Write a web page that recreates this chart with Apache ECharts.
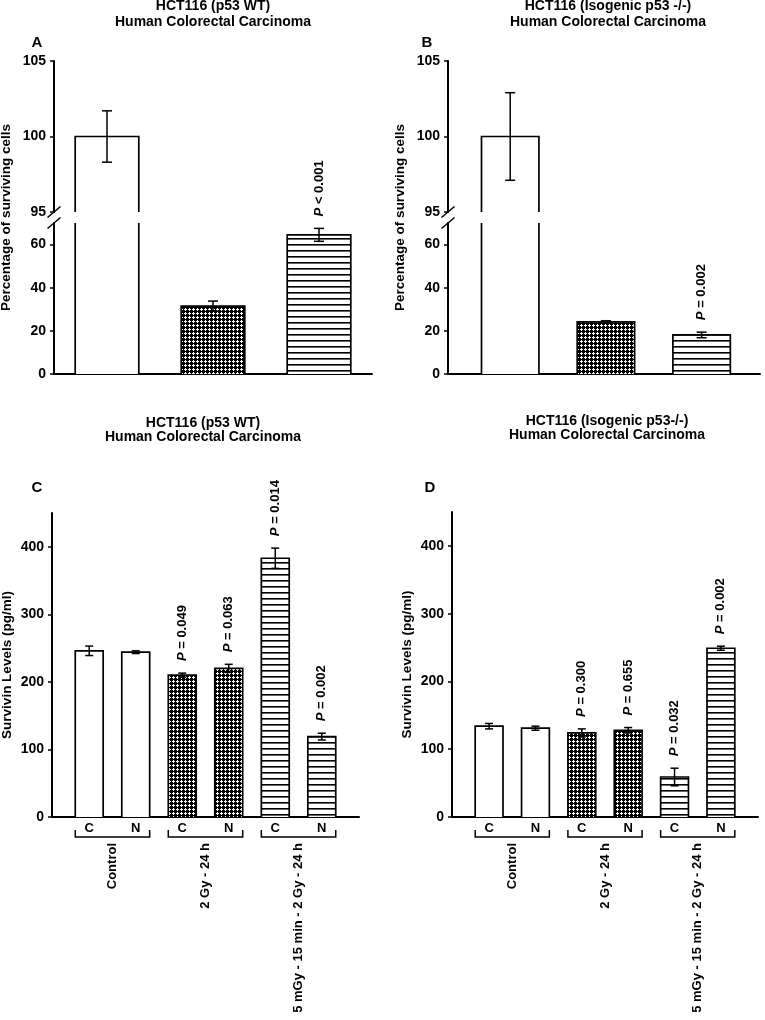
<!DOCTYPE html>
<html><head><meta charset="utf-8">
<script src="https://cdn.jsdelivr.net/npm/echarts@6/dist/echarts.min.js"></script>
<style>html,body{margin:0;padding:0;background:#fff}#c{width:765px;height:1020px}</style>
</head><body><div id="c"></div>
<script>
// ================= DATA =================
const titleWT = ['HCT116 (p53 WT)', 'Human Colorectal Carcinoma'];
const titleKOtop = ['HCT116 (Isogenic p53 -/-)', 'Human Colorectal Carcinoma'];
const titleKObottom = ['HCT116 (Isogenic p53-/-)', 'Human Colorectal Carcinoma'];
const panelLetters = ['A', 'B', 'C', 'D'];
const survivalYName = 'Percentage of surviving cells';
const survivinYName = 'Survivin Levels (pg/ml)';

// Panels A & B: surviving cells (%), one bar per treatment group
const survivalGroup = [0, 1, 2];
const survivalA = [100, 31.5, 64.5];
const survivalAErr = [1.7, 2.3, 3.0];
const survivalAP = ['', '', 'P < 0.001'];
const survivalB = [100, 24.2, 18.1];
const survivalBErr = [2.9, 0.5, 1.3];
const survivalBP = ['', '', 'P = 0.002'];
const survivalUpperTicks = [95, 100, 105];
const survivalLowerTicks = [0, 20, 40, 60];

// Panels C & D: survivin levels (pg/ml)
const fractionLabels = ['C', 'N', 'C', 'N', 'C', 'N'];
const survivinGroup = [0, 0, 1, 1, 2, 2];
const groupNames = ['Control', '2 Gy - 24 h', '5 mGy - 15 min - 2 Gy - 24 h'];
const groupMembers = [[0, 1], [2, 3], [4, 5]];
const survivinC = [246, 244, 210, 220, 383, 119];
const survivinCErr = [7, 2, 3, 6, 15, 5];
const survivinCP = ['', '', 'P = 0.049', 'P = 0.063', 'P = 0.014', 'P = 0.002'];
const survivinD = [134, 131, 124, 128, 59, 249];
const survivinDErr = [4, 3, 6, 4, 13, 3];
const survivinDP = ['', '', 'P = 0.300', 'P = 0.655', 'P = 0.032', 'P = 0.002'];
const survivinTicks = [0, 100, 200, 300, 400];

// ================= STYLE / LAYOUT =================
const FONT = '"Liberation Sans", Arial, Helvetica, sans-serif';
const BARW = 0.6;

function makePattern(kind) {
  const cv = document.createElement('canvas');
  const g = cv.getContext('2d');
  if (kind === 'cross') {
    cv.width = 4; cv.height = 4;
    g.fillStyle = '#000'; g.fillRect(0, 0, 4, 4);
    g.fillStyle = '#fff';
    [[1, 0], [0, 1], [1, 1], [2, 1], [1, 2]].forEach(function (p) { g.fillRect(p[0], p[1], 1, 1); });
  } else {
    cv.width = 4; cv.height = 6;
    g.fillStyle = '#fff'; g.fillRect(0, 0, 4, 6);
    g.fillStyle = '#000'; g.fillRect(0, 4, 4, 1.6);
  }
  return { image: cv, repeat: 'repeat' };
}
const groupFills = ['#fff', makePattern('cross'), makePattern('stripe')];

function barRenderer(groups) {
  return function (params, api) {
    const cs = params.coordSys;
    const i = params.dataIndex;
    const p = api.coord([api.value(0), api.value(1)]);
    const w = api.size([BARW, 0])[0];
    const bottom = cs.y + cs.height;
    if (p[1] >= bottom - 0.5) return null;
    const clipped = p[1] < cs.y;
    const top = clipped ? cs.y : p[1];
    const l = p[0] - w / 2, r = p[0] + w / 2;
    const ls = { stroke: '#000', lineWidth: 1.7, fill: 'none' };
    const children = [{ type: 'rect', shape: { x: l, y: top, width: w, height: bottom - top }, style: { fill: groupFills[groups[i]] } }];
    if (clipped) {
      children.push({ type: 'line', shape: { x1: l, y1: top, x2: l, y2: bottom }, style: ls });
      children.push({ type: 'line', shape: { x1: r, y1: top, x2: r, y2: bottom }, style: ls });
    } else {
      children.push({ type: 'polyline', shape: { points: [[l, bottom], [l, top], [r, top], [r, bottom]] }, style: ls });
    }
    return { type: 'group', children: children };
  };
}

function errRenderer(errs, pLabels, capHalf) {
  return function (params, api) {
    const cs = params.coordSys;
    const i = params.dataIndex;
    const xv = api.value(0), v = api.value(1), e = errs[i];
    const pc = api.coord([xv, v]);
    if (pc[1] < cs.y - 0.5 || pc[1] > cs.y + cs.height + 0.5) return null;
    const hi = api.coord([xv, v + e])[1], lo = api.coord([xv, v - e])[1];
    const x = pc[0];
    const ls = { stroke: '#000', lineWidth: 1.5 };
    const children = [
      { type: 'line', shape: { x1: x, y1: hi, x2: x, y2: lo }, style: ls },
      { type: 'line', shape: { x1: x - capHalf, y1: hi, x2: x + capHalf, y2: hi }, style: ls },
      { type: 'line', shape: { x1: x - capHalf, y1: lo, x2: x + capHalf, y2: lo }, style: ls }
    ];
    if (pLabels[i]) {
      children.push({
        type: 'text', x: x, y: hi - 12, rotation: Math.PI / 2,
        style: {
          text: '{i|P}' + pLabels[i].slice(1),
          rich: { i: { fontStyle: 'italic', fontWeight: 'bold', fontSize: 13, fontFamily: FONT, fill: '#000' } },
          fontSize: 13, fontWeight: 'bold', fontFamily: FONT, fill: '#000',
          align: 'left', verticalAlign: 'middle'
        }
      });
    }
    return { type: 'group', children: children };
  };
}

function bracketRenderer(params, api) {
  const cs = params.coordSys;
  const i = params.dataIndex;
  const w = api.size([BARW, 0])[0];
  const base = cs.y + cs.height;
  const l = api.coord([api.value(0), 0])[0] - w / 2;
  const r = api.coord([api.value(1), 0])[0] + w / 2;
  const yb = base + 20, yt = base + 13;
  return {
    type: 'group', children: [
      { type: 'polyline', shape: { points: [[l, yt], [l, yb], [r, yb], [r, yt]] }, style: { stroke: '#000', lineWidth: 1.5, fill: 'none' } },
      {
        type: 'text', x: (l + r) / 2, y: base + 26, rotation: Math.PI / 2,
        style: { text: groupNames[i], fontSize: 13, fontWeight: 'bold', fontFamily: FONT, fill: '#000', align: 'right', verticalAlign: 'middle' }
      }
    ]
  };
}

const LA = { left: 54, right: 372, uTop: 61, uBot: 212, lTop: 223, lBot: 374, xmin: -0.5, xmax: 2.5 };
const LB = { left: 448, right: 760, uTop: 61, uBot: 212, lTop: 223, lBot: 374, xmin: -0.65, xmax: 2.61 };
const LC = { left: 52, right: 359, top: 513, bot: 817 };
const LD = { left: 452, right: 758, top: 512, bot: 817 };

const grids = [
  { left: LA.left, top: LA.uTop, width: LA.right - LA.left, height: LA.uBot - LA.uTop },
  { left: LA.left, top: LA.lTop, width: LA.right - LA.left, height: LA.lBot - LA.lTop },
  { left: LB.left, top: LB.uTop, width: LB.right - LB.left, height: LB.uBot - LB.uTop },
  { left: LB.left, top: LB.lTop, width: LB.right - LB.left, height: LB.lBot - LB.lTop },
  { left: LC.left, top: LC.top, width: LC.right - LC.left, height: LC.bot - LC.top },
  { left: LD.left, top: LD.top, width: LD.right - LD.left, height: LD.bot - LD.top }
].map(function (g) { return Object.assign({ containLabel: false, outerBoundsMode: 'none' }, g); });

const axisLine = { show: true, onZero: false, lineStyle: { color: '#000', width: 2 } };
const tickStyle = { show: true, inside: false, length: 4, lineStyle: { color: '#000', width: 1.5 } };
const labelStyle = { color: '#000', fontSize: 14, fontWeight: 'bold', fontFamily: FONT, margin: 8 };

function xHidden(gi, L) { return { type: 'value', gridIndex: gi, min: L.xmin, max: L.xmax, show: false }; }
function xLine(gi, L) {
  return { type: 'value', gridIndex: gi, min: L.xmin, max: L.xmax, axisLine: axisLine, axisTick: { show: false }, axisLabel: { show: false }, splitLine: { show: false } };
}
function xGroups(gi) {
  return {
    type: 'value', gridIndex: gi, min: -0.8, max: 5.8, axisLine: axisLine, axisTick: { show: false }, splitLine: { show: false },
    axisLabel: {
      show: true, customValues: [0, 1, 2, 3, 4, 5], color: '#000', fontSize: 13, fontWeight: 'bold', fontFamily: FONT, margin: 5,
      formatter: function (v) { return fractionLabels[Math.round(v)] || ''; }
    }
  };
}
function yUpper(gi) {
  return {
    type: 'value', gridIndex: gi, min: 95, max: 105, interval: 5, axisLine: axisLine,
    axisTick: Object.assign({ customValues: survivalUpperTicks }, tickStyle),
    axisLabel: Object.assign({ customValues: survivalUpperTicks }, labelStyle), splitLine: { show: false }
  };
}
function yLower(gi) {
  return {
    type: 'value', gridIndex: gi, min: 0, max: 70, axisLine: axisLine,
    axisTick: Object.assign({ customValues: survivalLowerTicks }, tickStyle),
    axisLabel: Object.assign({ customValues: survivalLowerTicks }, labelStyle), splitLine: { show: false }
  };
}
function ySurvivin(gi) {
  return {
    type: 'value', gridIndex: gi, min: 0, max: 450, axisLine: axisLine,
    axisTick: Object.assign({ customValues: survivinTicks }, tickStyle),
    axisLabel: Object.assign({ customValues: survivinTicks }, labelStyle), splitLine: { show: false },
    name: survivinYName, nameLocation: 'middle', nameGap: 38,
    nameTextStyle: { color: '#000', fontSize: 13.5, fontWeight: 'bold', fontFamily: FONT }
  };
}

function toData(vals, errs) { return vals.map(function (v, i) { return [i, v, errs[i]]; }); }

function panelSeries(gi, vals, errs, groups, pLabels, cap) {
  return [
    { type: 'custom', xAxisIndex: gi, yAxisIndex: gi, renderItem: barRenderer(groups), data: toData(vals, errs), encode: { x: 0, y: 1 }, z: 2 },
    { type: 'custom', xAxisIndex: gi, yAxisIndex: gi, renderItem: errRenderer(errs, pLabels, cap), data: toData(vals, errs), encode: { x: 0, y: 1 }, z: 3 }
  ];
}

const series = [].concat(
  panelSeries(0, survivalA, survivalAErr, survivalGroup, survivalAP, 5),
  panelSeries(1, survivalA, survivalAErr, survivalGroup, survivalAP, 5),
  panelSeries(2, survivalB, survivalBErr, survivalGroup, survivalBP, 5),
  panelSeries(3, survivalB, survivalBErr, survivalGroup, survivalBP, 5),
  panelSeries(4, survivinC, survivinCErr, survivinGroup, survivinCP, 4),
  panelSeries(5, survivinD, survivinDErr, survivinGroup, survivinDP, 4),
  [
    { type: 'custom', xAxisIndex: 4, yAxisIndex: 4, renderItem: bracketRenderer, data: groupMembers, encode: { x: [0, 1] }, clip: false },
    { type: 'custom', xAxisIndex: 5, yAxisIndex: 5, renderItem: bracketRenderer, data: groupMembers, encode: { x: [0, 1] }, clip: false }
  ]
);

function txt(x, y, text, size, rot) {
  return {
    type: 'text', x: x, y: y, rotation: rot || 0, silent: true,
    style: { text: text, fontSize: size, fontWeight: 'bold', fontFamily: FONT, fill: '#000', align: 'center', verticalAlign: 'middle' }
  };
}
function breakMarks(L) {
  const ls = { stroke: '#000', lineWidth: 1.5 };
  return [L.uBot, L.lTop].map(function (y) {
    return { type: 'line', silent: true, shape: { x1: L.left - 6.5, y1: y + 5.5, x2: L.left + 6.5, y2: y - 5.5 }, style: ls };
  });
}

const graphics = [
  txt(213, 6, titleWT[0], 14), txt(213, 22, titleWT[1], 14),
  txt(608, 6, titleKOtop[0], 14), txt(608, 22, titleKOtop[1], 14),
  txt(203, 423, titleWT[0], 14), txt(203, 437.5, titleWT[1], 14),
  txt(607, 421, titleKObottom[0], 14), txt(607, 435.5, titleKObottom[1], 14),
  txt(37, 43, panelLetters[0], 15), txt(427, 43, panelLetters[1], 15),
  txt(37, 488, panelLetters[2], 15), txt(430, 488, panelLetters[3], 15),
  txt(6, (LA.uBot + LA.lTop) / 2, survivalYName, 13.5, Math.PI / 2),
  txt(400, (LB.uBot + LB.lTop) / 2, survivalYName, 13.5, Math.PI / 2)
].concat(breakMarks(LA), breakMarks(LB));

const chart = echarts.init(document.getElementById('c'), null, { renderer: 'canvas' });
chart.setOption({
  animation: false,
  backgroundColor: '#fff',
  grid: grids,
  xAxis: [xHidden(0, LA), xLine(1, LA), xHidden(2, LB), xLine(3, LB), xGroups(4), xGroups(5)],
  yAxis: [yUpper(0), yLower(1), yUpper(2), yLower(3), ySurvivin(4), ySurvivin(5)],
  series: series,
  graphic: graphics
});
</script>
</body></html>
